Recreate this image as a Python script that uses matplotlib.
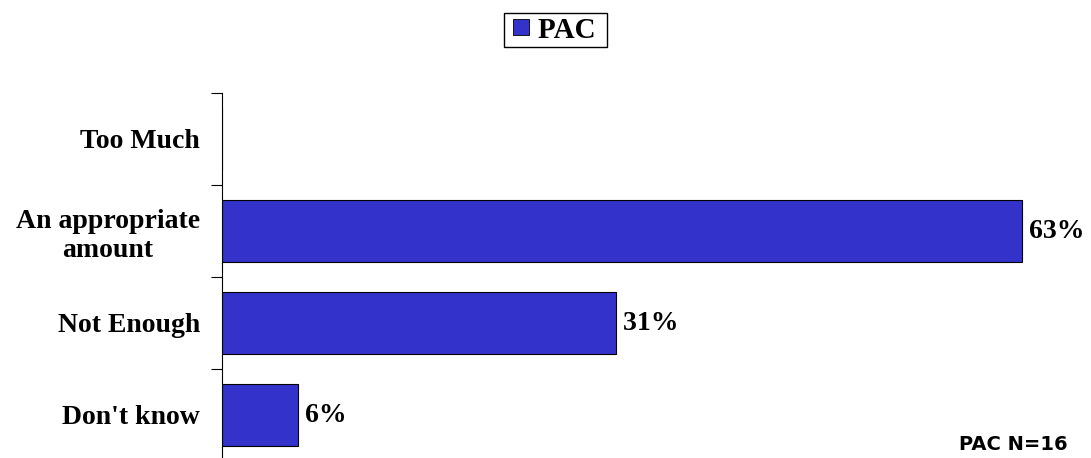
import matplotlib.pyplot as plt
from matplotlib.lines import Line2D

# Data
categories = ['Too Much', 'An appropriate\namount', 'Not Enough', "Don't know"]
values = [0, 63, 31, 6]
series_name = 'PAC'
note = 'PAC N=16'

bar_color = '#3333CC'
serif = ['Liberation Serif', 'DejaVu Serif']

fig = plt.figure(figsize=(10.91, 4.58), dpi=100)
ax = fig.add_axes([222 / 1091, -3 / 458, (1080 - 222) / 1091, 368 / 458])

y = list(range(len(categories)))
ax.barh(y, values, height=0.67, color=bar_color, edgecolor='black',
        linewidth=0.8)

ax.set_ylim(len(categories) - 0.5, -0.5)
ax.set_xlim(0, 63 * (1080 - 222) / 800)

# Value labels (skip zero bars)
for yi, v in zip(y, values):
    if v > 0:
        ax.text(v, yi, f' {v}%', va='center', ha='left', fontsize=20,
                fontweight='bold', family=serif)

# Category labels and boundary ticks
ax.set_yticks([i - 0.5 for i in range(len(categories) + 1)])
ax.set_yticklabels([])
ax.set_yticks(y, minor=True)
ax.set_yticklabels(categories, minor=True, fontsize=20, fontweight='bold',
                   family=serif, ha='right', multialignment='center',
                   linespacing=1.2)
ax.tick_params(axis='y', which='minor', length=0, pad=16)
ax.tick_params(axis='y', which='major', length=8, width=0.8)

ax.set_xticks([])
for side in ['top', 'right', 'bottom']:
    ax.spines[side].set_visible(False)
ax.spines['left'].set_linewidth(0.8)

# Legend at top center
handle = Line2D([], [], linestyle='none', marker='s', markersize=11.5,
                markerfacecolor=bar_color, markeredgecolor='black',
                markeredgewidth=0.6, label=series_name + ' ')
fig.legend(handles=[handle], loc='upper center', bbox_to_anchor=(555.5 / 1091, 1 - 13 / 458),
           prop={'family': serif, 'weight': 'bold', 'size': 21},
           fancybox=False, edgecolor='black', framealpha=1,
           handlelength=0.93, handletextpad=0.12,
           borderpad=0.12, borderaxespad=0)

fig.text(1068 / 1091, 1 - 450 / 458, note, ha='right', va='baseline',
         fontsize=14, fontweight='bold', family='DejaVu Sans')

fig.savefig('out.png', dpi=100)
